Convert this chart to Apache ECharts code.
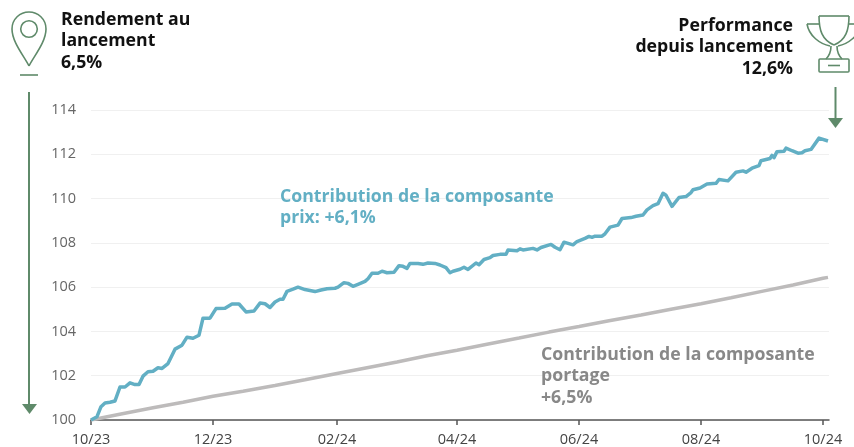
<!DOCTYPE html>
<html>
<head>
<meta charset="utf-8">
<style>html,body{margin:0;padding:0;background:#fff}#abc{width:854px;height:447px}</style>
<script src="https://cdn.jsdelivr.net/npm/echarts@6/dist/echarts.min.js"></script>
</head>
<body>
<div id="abc"></div>
<script>
// days since 01/10/2023
const prixDays = [
    0,3,5,7,9.5,12,14.5,17,19.5,22,24,26,28.5,31,33.5,35.5,38.5,42,45.5,48,
    51,54,56,59.5,62.5,67,70.5,74,77.5,81.5,84.5,87,89.5,92,94.5,96,98,101,103.5,107,
    112,115,116,118,122,123.5,124.5,126.5,128.5,131,133.5,137,138.5,140.5,143.5,145.5,148,151.5,154,156,
    158,159.5,163.5,166,167,168.5,172,172.5,174.5,177.5,179.5,181,184.5,186.5,188.5,192.5,194,196.5,199.5,201,
    204.5,207.5,208.5,213,214.5,216,221,223,225,230,232,234.5,236.5,241,243,247,249,250.5,252,255.5,
    257,259.5,263.5,265.5,270,271,272.5,276,278,281,283.5,286,287.5,290.5,294,297.5,300,301,304.5,308,
    312.5,314,318.5,322.5,326,327.5,330.5,334,335,339.5,340.5,341.5,343,346.5,347.5,350.5,353.5,355.5,357,360,
    364,368.5
]
const prixValues = [
    100,100.15,100.6,100.77,100.8,100.86,101.49,101.49,101.68,101.6,101.6,101.98,102.18,102.2,102.36,102.33,102.55,103.2,103.38,103.74,
    103.69,103.83,104.6,104.6,105.03,105.05,105.24,105.24,104.88,104.92,105.28,105.25,105.08,105.33,105.45,105.45,105.81,105.91,106.0,105.89,
    105.8,105.87,105.8,105.93,105.95,106.0,105.96,106.2,106.17,106.04,106.13,106.26,106.38,106.63,106.63,106.72,106.65,106.67,106.97,106.94,
    106.85,107.07,107.07,107.03,107.12,107.09,107.07,107.12,107.0,106.88,106.65,106.72,106.81,106.9,106.8,107.09,107.01,107.25,107.33,107.43,
    107.48,107.48,107.68,107.64,107.73,107.68,107.75,107.68,107.79,107.93,107.8,107.69,108.03,107.91,108.06,108.2,108.29,108.25,108.3,108.3,
    108.41,108.71,108.8,109.1,109.14,109.05,109.2,109.26,109.49,109.68,109.77,110.24,110.15,109.65,110.05,110.09,110.27,110.4,110.48,110.66,
    110.69,110.86,110.8,111.19,111.25,111.19,111.37,111.49,111.71,111.81,111.95,111.85,112.12,112.14,112.28,112.16,112.05,112.07,112.16,112.22,
    112.73,112.6
]
const portageDays = [0,15,31,46,61,76,92,107,123,138,153,168,183,198,214,229,244,259,275,290,305,320,336,351,366,368.5]
const portageValues = [100,100.27,100.55,100.8,101.07,101.3,101.56,101.82,102.1,102.36,102.62,102.9,103.15,103.42,103.7,103.97,104.22,104.48,104.74,105.0,105.25,105.52,105.82,106.1,106.4,106.44]
const tickDays = [0,61,123,183,244,305,366]
const tickLabels = ['10/23','12/23','02/24','04/24','06/24','08/24','10/24']

const toPairs = (xs, ys) => xs.map((x, i) => [x, ys[i]])
const green = '#5f8a6a'
const font = '"Open Sans"'
const iconStyle = {fill: 'none', stroke: green, lineWidth: 1.6}

function label(text, x, y, fill, align) {
    return {
        type: 'text', x: x, y: y, z: 10,
        style: {text: text, fill: fill, font: 'bold 17.7px ' + font, lineHeight: 21.5, textAlign: align || 'left'}
    }
}

function poly(points) {
    return {type: 'polyline', z: 10, shape: {points: points}, style: iconStyle}
}

function curve(x1, y1, cpx1, cpy1, cpx2, cpy2, x2, y2) {
    return {
        type: 'bezierCurve', z: 10,
        shape: {x1: x1, y1: y1, cpx1: cpx1, cpy1: cpy1, cpx2: cpx2, cpy2: cpy2, x2: x2, y2: y2},
        style: iconStyle
    }
}

let myChart = echarts.init(document.getElementById('abc'))

let option = {
    animation: false,
    grid: {left: 91, right: 25, top: 110, bottom: 26},
    xAxis: {
        type: 'value', min: 0, max: 369,
        splitLine: {show: false},
        axisLine: {show: true, lineStyle: {color: '#555', width: 1.5}},
        axisTick: {show: true, length: 5, customValues: tickDays, lineStyle: {color: '#555', width: 1.5}},
        axisLabel: {
            customValues: tickDays, color: '#444', fontFamily: font, fontSize: 14.5, margin: 12,
            formatter: v => tickLabels[tickDays.indexOf(v)]
        }
    },
    yAxis: {
        type: 'value', min: 100, max: 114, interval: 2,
        axisLine: {show: false},
        axisTick: {show: false},
        axisLabel: {color: '#666', fontFamily: font, fontSize: 14.5, margin: 15},
        splitLine: {lineStyle: {color: '#f0f0f0', width: 1}}
    },
    series: [
        {
            name: 'portage', type: 'line', symbol: 'none', z: 2,
            lineStyle: {color: '#bdbbbb', width: 3.5},
            data: toPairs(portageDays, portageValues)
        },
        {
            name: 'prix', type: 'line', symbol: 'none', z: 3,
            lineStyle: {color: '#62afc4', width: 3.5, join: 'round'},
            data: toPairs(prixDays, prixValues)
        }
    ],
    graphic: [
        label('Rendement au\nlancement\n6,5%', 61, 9, '#111'),
        label('Performance\ndepuis lancement\n12,6%', 793, 15, '#111', 'right'),
        label('Contribution de la composante\nprix: +6,1%', 280, 186, '#62afc4'),
        label('Contribution de la composante\nportage\n+6,5%', 541, 344, '#888'),
        // pin
        curve(29, 66, 24, 56, 12, 42, 12, 29),
        curve(12, 29, 12, 19, 20, 12, 29, 12),
        curve(29, 12, 38, 12, 46, 19, 46, 29),
        curve(46, 29, 46, 42, 34, 56, 29, 66),
        {type: 'circle', z: 10, shape: {cx: 29, cy: 29, r: 8.3}, style: iconStyle},
        poly([[20, 75], [38, 75]]),
        // trophy
        poly([[819, 16], [849, 16]]),
        curve(819, 16, 819, 30, 822, 40, 834, 45),
        curve(849, 16, 849, 30, 846, 40, 834, 45),
        poly([[819, 24], [807, 24]]),
        curve(807, 24, 809, 36, 820, 44, 830, 46),
        poly([[849, 24], [861, 24]]),
        curve(861, 24, 859, 36, 848, 44, 838, 46),
        curve(831, 46, 831, 52, 829, 56, 826, 59),
        curve(837, 46, 837, 52, 839, 56, 842, 59),
        {type: 'rect', z: 10, shape: {x: 819, y: 59, width: 30, height: 13, r: 1}, style: iconStyle},
        poly([[828, 65.5], [840, 65.5]]),
        // arrows
        {type: 'line', z: 10, shape: {x1: 29, y1: 92, x2: 29, y2: 406}, style: {stroke: green, lineWidth: 2}},
        {type: 'polygon', z: 10, shape: {points: [[22, 404], [37, 404], [29.5, 414]]}, style: {fill: green}},
        {type: 'line', z: 10, shape: {x1: 835.5, y1: 87, x2: 835.5, y2: 120}, style: {stroke: green, lineWidth: 2}},
        {type: 'polygon', z: 10, shape: {points: [[828, 118], [843, 118], [835.5, 128]]}, style: {fill: green}}
    ]
}
myChart.setOption(option)
</script>
</body>
</html>
